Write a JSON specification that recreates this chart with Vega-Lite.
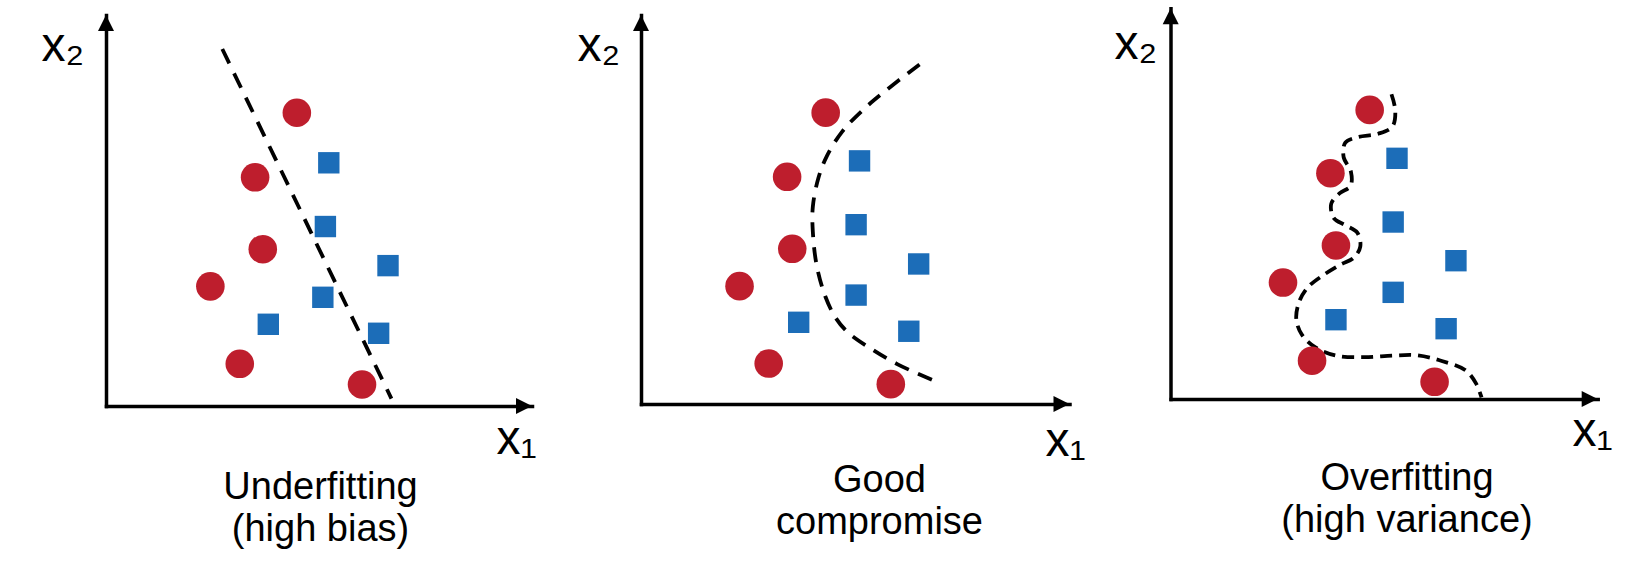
{
  "$schema": "https://vega.github.io/schema/vega-lite/v6.json",
  "background": "white",
  "padding": 0,
  "spacing": 0,
  "bounds": "flush",
  "config": {
    "view": {"stroke": null},
    "axis": {"ticks": false, "labels": false, "grid": false, "domainColor": "black", "domainWidth": 3.5, "domainCap": "square", "titleFont": "Liberation Sans", "titleFontSize": 48, "titleFontWeight": "normal", "titleColor": "black", "titlePadding": 0},
    "title": {"font": "Liberation Sans", "fontSize": 38, "fontWeight": "normal", "color": "black", "lineHeight": 42, "orient": "bottom", "anchor": "middle", "frame": "group"}
  },
  "datasets": {
    "arrows": [
      {"dir": "right", "x1": 10, "x2": 0},
      {"dir": "up", "x1": 0, "x2": 10}
    ],
    "under": [
      {"kind": "class A", "x1": 4.48, "x2": 7.50},
      {"kind": "class A", "x1": 3.50, "x2": 5.85},
      {"kind": "class A", "x1": 3.68, "x2": 4.01},
      {"kind": "class A", "x1": 2.45, "x2": 3.06},
      {"kind": "class A", "x1": 3.14, "x2": 1.08},
      {"kind": "class A", "x1": 6.01, "x2": 0.55},
      {"kind": "class B", "x1": 5.23, "x2": 6.22},
      {"kind": "class B", "x1": 5.15, "x2": 4.59},
      {"kind": "class B", "x1": 6.62, "x2": 3.59},
      {"kind": "class B", "x1": 5.09, "x2": 2.78},
      {"kind": "class B", "x1": 3.81, "x2": 2.09},
      {"kind": "class B", "x1": 6.40, "x2": 1.86},
      {"kind": "boundary", "i": 0, "x1": 2.73, "x2": 9.13},
      {"kind": "boundary", "i": 1, "x1": 6.70, "x2": 0.19}
    ],
    "good": [
      {"kind": "class A", "x1": 4.31, "x2": 7.49},
      {"kind": "class A", "x1": 3.41, "x2": 5.84},
      {"kind": "class A", "x1": 3.53, "x2": 3.99},
      {"kind": "class A", "x1": 2.30, "x2": 3.03},
      {"kind": "class A", "x1": 2.98, "x2": 1.04},
      {"kind": "class A", "x1": 5.83, "x2": 0.51},
      {"kind": "class B", "x1": 5.10, "x2": 6.25},
      {"kind": "class B", "x1": 5.02, "x2": 4.61},
      {"kind": "class B", "x1": 6.48, "x2": 3.60},
      {"kind": "class B", "x1": 5.02, "x2": 2.80},
      {"kind": "class B", "x1": 3.68, "x2": 2.10},
      {"kind": "class B", "x1": 6.25, "x2": 1.87},
      {"kind": "boundary", "i": 0, "x1": 6.50, "x2": 8.73},
      {"kind": "boundary", "i": 1, "x1": 5.67, "x2": 8.02},
      {"kind": "boundary", "i": 2, "x1": 5.18, "x2": 7.56},
      {"kind": "boundary", "i": 3, "x1": 4.70, "x2": 7.01},
      {"kind": "boundary", "i": 4, "x1": 4.34, "x2": 6.38},
      {"kind": "boundary", "i": 5, "x1": 4.14, "x2": 5.81},
      {"kind": "boundary", "i": 6, "x1": 4.01, "x2": 5.07},
      {"kind": "boundary", "i": 7, "x1": 4.01, "x2": 4.43},
      {"kind": "boundary", "i": 8, "x1": 4.10, "x2": 3.56},
      {"kind": "boundary", "i": 9, "x1": 4.30, "x2": 2.77},
      {"kind": "boundary", "i": 10, "x1": 4.54, "x2": 2.22},
      {"kind": "boundary", "i": 11, "x1": 4.82, "x2": 1.85},
      {"kind": "boundary", "i": 12, "x1": 5.34, "x2": 1.44},
      {"kind": "boundary", "i": 13, "x1": 5.99, "x2": 1.02},
      {"kind": "boundary", "i": 14, "x1": 6.86, "x2": 0.59}
    ],
    "over": [
      {"kind": "class A", "x1": 4.66, "x2": 7.40},
      {"kind": "class A", "x1": 3.74, "x2": 5.78},
      {"kind": "class A", "x1": 3.87, "x2": 3.93},
      {"kind": "class A", "x1": 2.63, "x2": 2.98},
      {"kind": "class A", "x1": 3.31, "x2": 0.98},
      {"kind": "class A", "x1": 6.18, "x2": 0.44},
      {"kind": "class B", "x1": 5.30, "x2": 6.16},
      {"kind": "class B", "x1": 5.21, "x2": 4.53},
      {"kind": "class B", "x1": 6.68, "x2": 3.54},
      {"kind": "class B", "x1": 5.21, "x2": 2.73},
      {"kind": "class B", "x1": 3.87, "x2": 2.03},
      {"kind": "class B", "x1": 6.45, "x2": 1.80},
      {"kind": "boundary", "i": 0, "x1": 5.17, "x2": 7.80},
      {"kind": "boundary", "i": 1, "x1": 5.26, "x2": 7.38},
      {"kind": "boundary", "i": 2, "x1": 5.19, "x2": 6.97},
      {"kind": "boundary", "i": 3, "x1": 4.86, "x2": 6.79},
      {"kind": "boundary", "i": 4, "x1": 4.37, "x2": 6.70},
      {"kind": "boundary", "i": 5, "x1": 4.09, "x2": 6.56},
      {"kind": "boundary", "i": 6, "x1": 4.05, "x2": 6.19},
      {"kind": "boundary", "i": 7, "x1": 4.22, "x2": 5.82},
      {"kind": "boundary", "i": 8, "x1": 4.21, "x2": 5.45},
      {"kind": "boundary", "i": 9, "x1": 3.96, "x2": 5.27},
      {"kind": "boundary", "i": 10, "x1": 3.76, "x2": 5.00},
      {"kind": "boundary", "i": 11, "x1": 3.82, "x2": 4.63},
      {"kind": "boundary", "i": 12, "x1": 4.09, "x2": 4.45},
      {"kind": "boundary", "i": 13, "x1": 4.37, "x2": 4.26},
      {"kind": "boundary", "i": 14, "x1": 4.44, "x2": 3.90},
      {"kind": "boundary", "i": 15, "x1": 4.29, "x2": 3.62},
      {"kind": "boundary", "i": 16, "x1": 3.96, "x2": 3.43},
      {"kind": "boundary", "i": 17, "x1": 3.56, "x2": 3.16},
      {"kind": "boundary", "i": 18, "x1": 3.23, "x2": 2.88},
      {"kind": "boundary", "i": 19, "x1": 3.02, "x2": 2.52},
      {"kind": "boundary", "i": 20, "x1": 2.94, "x2": 2.06},
      {"kind": "boundary", "i": 21, "x1": 3.07, "x2": 1.65},
      {"kind": "boundary", "i": 22, "x1": 3.39, "x2": 1.32},
      {"kind": "boundary", "i": 23, "x1": 3.88, "x2": 1.11},
      {"kind": "boundary", "i": 24, "x1": 4.54, "x2": 1.07},
      {"kind": "boundary", "i": 25, "x1": 5.19, "x2": 1.11},
      {"kind": "boundary", "i": 26, "x1": 5.76, "x2": 1.12},
      {"kind": "boundary", "i": 27, "x1": 6.33, "x2": 0.98},
      {"kind": "boundary", "i": 28, "x1": 6.91, "x2": 0.73},
      {"kind": "boundary", "i": 29, "x1": 7.15, "x2": 0.40},
      {"kind": "boundary", "i": 30, "x1": 7.28, "x2": 0.04}
    ]
  },
  "hconcat": [
    {
      "width": 549,
      "height": 406,
      "title": {"text": ["Underfitting", "(high bias)"], "dx": 46, "offset": 6},
      "data": {"name": "under"},
      "encoding": {
        "x": {"field": "x1", "type": "quantitative", "scale": {"domain": [0, 10], "range": [106, 532], "nice": false, "zero": false}, "axis": {"title": "x₁", "titleX": 496, "titleY": 47, "titleAlign": "left", "titleBaseline": "alphabetic", "titleAngle": 0}},
        "y": {"field": "x2", "type": "quantitative", "scale": {"domain": [0, 10], "range": [406, 15], "nice": false, "zero": false}, "axis": {"title": "x₂", "offset": -106, "titleX": -65, "titleY": 60, "titleAlign": "left", "titleBaseline": "alphabetic", "titleAngle": 0}}
      },
      "layer": [
        {"transform": [{"filter": "datum.kind === 'boundary'"}], "mark": {"type": "line", "stroke": "black", "strokeWidth": 3.8, "strokeDash": [16, 11], "interpolate": "linear"}, "encoding": {"order": {"field": "i", "type": "quantitative"}}},
        {"transform": [{"filter": "datum.kind === 'class A'"}], "mark": {"type": "point", "shape": "circle", "filled": true, "size": 818, "color": "#BE1E2D", "opacity": 1}},
        {"transform": [{"filter": "datum.kind === 'class B'"}], "mark": {"type": "point", "shape": "square", "filled": true, "size": 458, "color": "#1C6DB8", "opacity": 1}},
        {"data": {"name": "arrows"}, "mark": {"type": "point", "filled": true, "color": "black", "opacity": 1, "size": 1024}, "encoding": {"shape": {"field": "dir", "type": "nominal", "scale": {"domain": ["right", "up"], "range": ["M0,0L-1,-0.5L-1,0.5Z", "M0,0L-0.5,1L0.5,1Z"]}, "legend": null}}}
      ]
    },
    {
      "width": 549,
      "height": 404,
      "title": {"text": ["Good", "compromise"], "dx": 56, "offset": -3},
      "data": {"name": "good"},
      "encoding": {
        "x": {"field": "x1", "type": "quantitative", "scale": {"domain": [0, 10], "range": [92, 520.5], "nice": false, "zero": false}, "axis": {"title": "x₁", "titleX": 496, "titleY": 51, "titleAlign": "left", "titleBaseline": "alphabetic", "titleAngle": 0}},
        "y": {"field": "x2", "type": "quantitative", "scale": {"domain": [0, 10], "range": [404, 15], "nice": false, "zero": false}, "axis": {"title": "x₂", "offset": -92, "titleX": -64, "titleY": 60, "titleAlign": "left", "titleBaseline": "alphabetic", "titleAngle": 0}}
      },
      "layer": [
        {"transform": [{"filter": "datum.kind === 'boundary'"}], "mark": {"type": "line", "stroke": "black", "strokeWidth": 3.8, "strokeDash": [15, 10], "interpolate": "catmull-rom"}, "encoding": {"order": {"field": "i", "type": "quantitative"}}},
        {"transform": [{"filter": "datum.kind === 'class A'"}], "mark": {"type": "point", "shape": "circle", "filled": true, "size": 818, "color": "#BE1E2D", "opacity": 1}},
        {"transform": [{"filter": "datum.kind === 'class B'"}], "mark": {"type": "point", "shape": "square", "filled": true, "size": 458, "color": "#1C6DB8", "opacity": 1}},
        {"data": {"name": "arrows"}, "mark": {"type": "point", "filled": true, "color": "black", "opacity": 1, "size": 1024}, "encoding": {"shape": {"field": "dir", "type": "nominal", "scale": {"domain": ["right", "up"], "range": ["M0,0L-1,-0.5L-1,0.5Z", "M0,0L-0.5,1L0.5,1Z"]}, "legend": null}}}
      ]
    },
    {
      "width": 548,
      "height": 399,
      "title": {"text": ["Overfitting", "(high variance)"], "dx": 35, "offset": 5},
      "data": {"name": "over"},
      "encoding": {
        "x": {"field": "x1", "type": "quantitative", "scale": {"domain": [0, 10], "range": [72.7, 499.7], "nice": false, "zero": false}, "axis": {"title": "x₁", "titleX": 474, "titleY": 46, "titleAlign": "left", "titleBaseline": "alphabetic", "titleAngle": 0}},
        "y": {"field": "x2", "type": "quantitative", "scale": {"domain": [0, 10], "range": [399, 8.3], "nice": false, "zero": false}, "axis": {"title": "x₂", "offset": -72.5, "titleX": -56.5, "titleY": 58, "titleAlign": "left", "titleBaseline": "alphabetic", "titleAngle": 0}}
      },
      "layer": [
        {"transform": [{"filter": "datum.kind === 'boundary'"}], "mark": {"type": "line", "stroke": "black", "strokeWidth": 3.8, "strokeDash": [12, 7], "interpolate": "catmull-rom"}, "encoding": {"order": {"field": "i", "type": "quantitative"}}},
        {"transform": [{"filter": "datum.kind === 'class A'"}], "mark": {"type": "point", "shape": "circle", "filled": true, "size": 818, "color": "#BE1E2D", "opacity": 1}},
        {"transform": [{"filter": "datum.kind === 'class B'"}], "mark": {"type": "point", "shape": "square", "filled": true, "size": 458, "color": "#1C6DB8", "opacity": 1}},
        {"data": {"name": "arrows"}, "mark": {"type": "point", "filled": true, "color": "black", "opacity": 1, "size": 1024}, "encoding": {"shape": {"field": "dir", "type": "nominal", "scale": {"domain": ["right", "up"], "range": ["M0,0L-1,-0.5L-1,0.5Z", "M0,0L-0.5,1L0.5,1Z"]}, "legend": null}}}
      ]
    }
  ]
}
